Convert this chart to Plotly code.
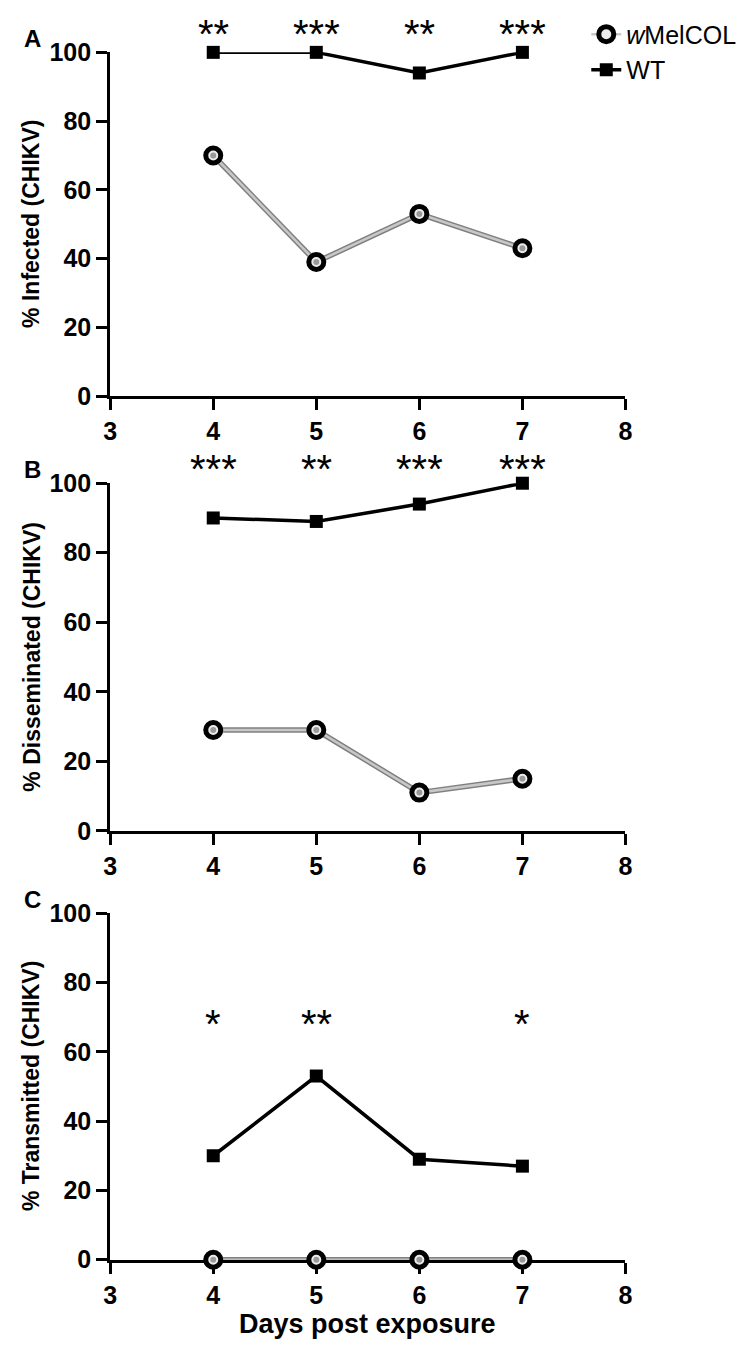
import plotly.graph_objects as go

days = [4, 5, 6, 7]
x_ticks = [3, 4, 5, 6, 7, 8]
y_ticks = [0, 20, 40, 60, 80, 100]

wt_infected = [100, 100, 94, 100]
wmel_infected = [70, 39, 53, 43]
wt_disseminated = [90, 89, 94, 100]
wmel_disseminated = [29, 29, 11, 15]
wt_transmitted = [30, 53, 29, 27]
wmel_transmitted = [0, 0, 0, 0]

sig_infected = ["**", "***", "**", "***"]
sig_disseminated = ["***", "**", "***", "***"]
sig_transmitted = ["*", "**", "", "*"]

panel_letters = ["A", "B", "C"]
y_titles = ["% Infected (CHIKV)", "% Disseminated (CHIKV)", "% Transmitted (CHIKV)"]
x_title = "Days post exposure"
series_names = ["<i>w</i>MelCOL", "WT"]

W, H = 754, 1348
FONT = "Liberation Sans, Arial, sans-serif"

# pixel geometry of the three plot areas
x_left, x_right = 97, 622
panel_tops = [31, 471, 910]
panel_bottoms = [382, 826, 1264]
# star heights, as fraction of each panel's y domain
star_levels = [1.052, 1.042, 0.68]

panels = [
    (wmel_infected, wt_infected, sig_infected),
    (wmel_disseminated, wt_disseminated, sig_disseminated),
    (wmel_transmitted, wt_transmitted, sig_transmitted),
]

fig = go.Figure()
annotations = []

for i, (wmel, wt, sig) in enumerate(panels):
    n = i + 1
    xa = "x" if n == 1 else f"x{n}"
    ya = "y" if n == 1 else f"y{n}"
    show = (i == 0)
    # wMelCOL: double-toned grey line
    fig.add_trace(go.Scatter(
        x=days, y=wmel, mode="lines", xaxis=xa, yaxis=ya,
        line=dict(color="#808080", width=5.5), showlegend=False,
        hoverinfo="skip", cliponaxis=False))
    fig.add_trace(go.Scatter(
        x=days, y=wmel, mode="lines+markers", xaxis=xa, yaxis=ya,
        name=series_names[0], showlegend=show,
        line=dict(color="#c8c8c8", width=2.5),
        marker=dict(symbol="circle", size=15, color="#ececec",
                    line=dict(color="black", width=5)),
        cliponaxis=False))
    fig.add_trace(go.Scatter(
        x=days, y=wmel, mode="markers", xaxis=xa, yaxis=ya,
        showlegend=False, hoverinfo="skip",
        marker=dict(symbol="circle", size=6, color="#9a9a9a"),
        cliponaxis=False))
    fig.add_trace(go.Scatter(
        x=days, y=wt, mode="lines+markers", xaxis=xa, yaxis=ya,
        name=series_names[1], showlegend=show,
        line=dict(color="black", width=3.5),
        marker=dict(symbol="square", size=13, color="black"),
        cliponaxis=False))
    # significance stars
    for d, s in zip(days, sig):
        if s:
            annotations.append(dict(
                x=d, y=star_levels[i], xref=xa, yref=f"{ya} domain", text=s,
                showarrow=False, yanchor="middle",
                font=dict(family=FONT, size=40, color="black")))

    y0 = 1 - panel_bottoms[i] / H
    y1 = 1 - panel_tops[i] / H
    axis_common = dict(
        showgrid=False, zeroline=False, showline=True, linecolor="black",
        linewidth=3, ticks="outside", ticklen=11, tickwidth=3,
        tickcolor="black", layer="below traces",
        tickfont=dict(family=FONT, size=25, color="black", weight="bold"))
    fig.update_layout(**{
        ("xaxis" if n == 1 else f"xaxis{n}"): dict(
            domain=[x_left / W, x_right / W], range=[3, 8],
            tickvals=x_ticks, anchor=ya, **axis_common),
        ("yaxis" if n == 1 else f"yaxis{n}"): dict(
            domain=[y0, y1], range=[0, 100],
            tickvals=y_ticks, anchor=xa, **axis_common),
    })
    annotations.append(dict(
        x=17 / W, y=(y0 + y1) / 2, xref="paper", yref="paper",
        xanchor="center", yanchor="middle",
        text=y_titles[i], textangle=-90, showarrow=False,
        font=dict(family=FONT, size=23, color="black", weight="bold")))
    annotations.append(dict(
        x=18 / W, y=1 - (panel_tops[i] - 14) / H, xref="paper", yref="paper",
        xanchor="center", yanchor="middle",
        text=panel_letters[i], showarrow=False,
        font=dict(family=FONT, size=24, color="black", weight="bold")))

annotations.append(dict(
    x=(x_left + x_right) / 2 / W, y=1 - 1330 / H, xref="paper", yref="paper",
    xanchor="center", yanchor="middle",
    text=x_title, showarrow=False,
    font=dict(family=FONT, size=27, color="black", weight="bold")))

fig.update_layout(
    width=W, height=H,
    margin=dict(l=0, r=0, t=0, b=0),
    paper_bgcolor="white", plot_bgcolor="white",
    annotations=annotations,
    legend=dict(x=0.772, y=1.008, xanchor="left", yanchor="top",
                font=dict(family=FONT, size=25, color="black"),
                bgcolor="rgba(0,0,0,0)"),
    showlegend=True,
)

fig.write_html("out.html")
